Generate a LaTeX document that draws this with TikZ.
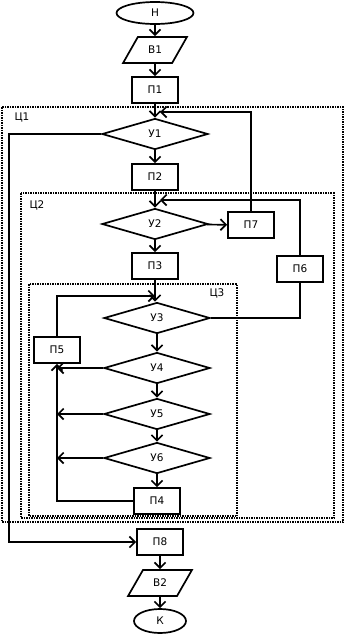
\documentclass[tikz,border=0pt]{standalone}
\usepackage{fontspec}
\setmainfont{DejaVu Sans}
\usetikzlibrary{arrows.meta,positioning,shapes.geometric}

\tikzset{
  blk/.style={draw, line width=1.7pt, minimum width=46pt, minimum height=26pt, inner sep=0pt},
  cond/.style={draw, diamond, aspect=3.4, line width=1.7pt, minimum width=106pt, minimum height=31pt, inner sep=0pt},
  term/.style={draw, ellipse, line width=1.7pt, inner sep=0pt},
  io/.style={draw, trapezium, trapezium left angle=52, trapezium right angle=128, trapezium stretches=true, line width=1.7pt, minimum width=64pt, minimum height=26pt, inner sep=0pt},
  arr/.style={-{Straight Barb[length=5.5pt,width=11pt]}, line width=1.7pt},
  cyc/.style={densely dotted, line width=1.5pt},
}

\begin{document}
\begin{tikzpicture}[x=1pt, y=-1pt, font=\fontsize{10.5pt}{12pt}\selectfont]
\useasboundingbox (0,0) rectangle (345,635);
% loop frames
\draw[cyc] (2,107) rectangle (343,522);
\draw[cyc] (21,193) rectangle (334,518);
\draw[cyc] (29,284) rectangle (237,516);
\node (l1) at (22,117) {Ц1};
\node (l2) at (37,205) {Ц2};
\node (l3) at (217,293) {Ц3};
% main column
\node[term, minimum width=77pt, minimum height=22pt] (n) at (155,13) {Н};
\node[io] (v1) at (155,50) {В1};
\node[blk] (p1) at (155,90) {П1};
\node[cond] (u1) at (155,134) {У1};
\node[blk] (p2) at (155,177) {П2};
\node[cond] (u2) at (155,224) {У2};
\node[blk] (p3) at (155,266) {П3};
\node[cond] (u3) at (157,318) {У3};
\node[cond] (u4) at (157,368) {У4};
\node[cond] (u5) at (157,414) {У5};
\node[cond] (u6) at (157,458) {У6};
\node[blk] (p4) at (157,501) {П4};
\node[blk] (p8) at (160,542) {П8};
\node[io] (v2) at (160,583) {В2};
\node[term, minimum width=52pt, minimum height=24pt] (k) at (160,621) {К};
% side blocks
\node[blk] (p7) at (251,225) {П7};
\node[blk] (p6) at (300,269) {П6};
\node[blk] (p5) at (57,350) {П5};
\coordinate (j1) at (160,112);
\coordinate (j2) at (160,200);
\coordinate (j3) at (155,296);
\coordinate (c1) at (9,542);
% connectors
\draw[arr] (n) -- (v1);
\draw[arr] (v1) -- (p1);
\draw[arr] (p1) -- (u1);
\draw[arr] (u1) -- (p2);
\draw[arr] (p2) -- (u2);
\draw[arr] (u2) -- (p3);
\draw[arr] (p3.south) -- (p3.south |- u3.north);
\draw[arr] (u3) -- (u4);
\draw[arr] (u4) -- (u5);
\draw[arr] (u5) -- (u6);
\draw[arr] (u6) -- (p4);
\draw[arr] (u2) -- (p7);
\draw[arr] (p7) |- (j1);
\draw[arr] (p6) |- (j2);
\draw[line width=1.7pt] (u3) -| (p6);
\draw[arr] (p5) |- (j3);
\draw[arr] (u4) -- (u4 -| p5);
\draw[arr] (u5) -- (u5 -| p5);
\draw[arr] (u6) -- (u6 -| p5);
\draw[arr] (p4) -| (p5);
\draw[arr] (u1) -| (c1) -- (p8);
\draw[arr] (p8) -- (v2);
\draw[arr] (v2) -- (k);
\end{tikzpicture}
\end{document}
